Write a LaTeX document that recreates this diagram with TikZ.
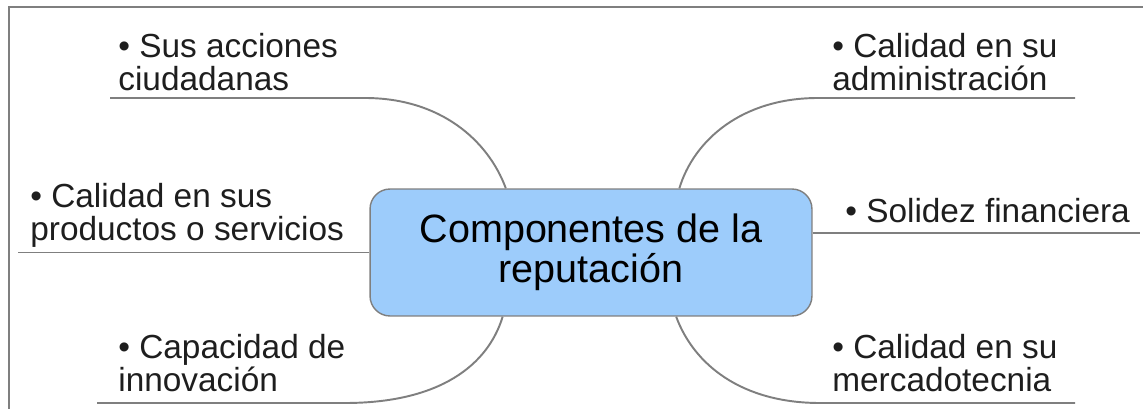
\documentclass[tikz,border=0pt]{standalone}
\usepackage{fontspec}
\setmainfont{Liberation Sans}
\usetikzlibrary{positioning}

\definecolor{boxblue}{HTML}{9DCCFB}
\definecolor{linegray}{HTML}{7F7F7F}
\definecolor{txtgray}{HTML}{1E1E1E}

\begin{document}
\begin{tikzpicture}[x=0.02cm, y=-0.02cm,
  topic/.style={rectangle, draw=linegray, fill=boxblue, rounded corners=0.4cm, line width=0.8pt,
                minimum width=8.84cm, minimum height=2.54cm, align=center, text=black,
                font=\fontsize{22.5}{23}\selectfont},
  item/.style={anchor=north west, inner sep=0pt, align=left, text=txtgray,
               font=\fontsize{19}{19}\selectfont},
  branch/.style={draw=linegray, line width=1.1pt}
]
\useasboundingbox (0,0) rectangle (1143,409);
\draw[linegray, line width=1.1pt] (9,409) -- (9,7) -- (1143,7);

\node[topic] (rep) at (591,252.5) {Componentes de la\\reputación};

\node[item] (tl) at (118,33) {• Sus acciones\\ciudadanas};
\node[item] (tr) at (832,33) {• Calidad en su\\administración};
\node[item] (ml) at (30,183) {• Calidad en sus\\productos o servicios};
\node[item] (mr) at (845,198) {• Solidez financiera};
\node[item] (bl) at (118,334) {• Capacidad de\\innovación};
\node[item] (br) at (832,334) {• Calidad en su\\mercadotecnia};

\coordinate (tl0) at (110,98);
\coordinate (tr0) at (1075,98);
\coordinate (ml0) at (18,0);
\coordinate (mr0) at (1140,0);
\coordinate (bl0) at (97,403);
\coordinate (br0) at (1075,403);

\draw[branch] (rep.143.6) .. controls (488,140) and (440,98) .. (365,98) -- (tl0);
\draw[branch] (rep.36.4) .. controls (694,140) and (742,98) .. (818,98) -- (tr0);
\draw[branch] (rep.west) -- (rep.west -| ml0);
\draw[branch] (rep.5) -- (rep.5 -| mr0);
\draw[branch] (rep.216.4) .. controls (488,365) and (440,403) .. (345,403) -- (bl0);
\draw[branch] (rep.323.6) .. controls (694,365) and (742,403) .. (820,403) -- (br0);
\end{tikzpicture}
\end{document}
